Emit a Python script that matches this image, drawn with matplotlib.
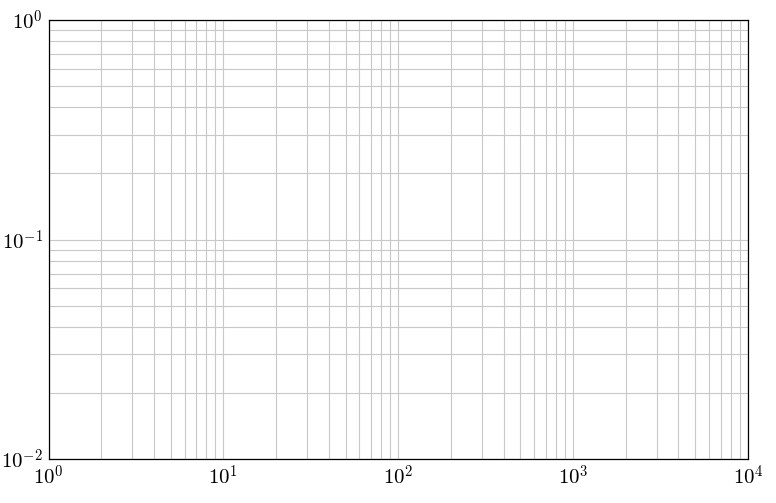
import matplotlib
matplotlib.use("Agg")
import matplotlib.pyplot as plt
from matplotlib.ticker import LogLocator, NullFormatter

plt.rcParams['mathtext.fontset'] = 'cm'
plt.rcParams['font.family'] = ['DejaVu Serif']

x_limits = [1, 1e4]
y_limits = [1e-2, 1]
x_ticks = [1, 10, 100, 1000, 10000]
x_tick_labels = [r'$10^{0}$', r'$10^{1}$', r'$10^{2}$', r'$10^{3}$', r'$10^{4}$']
y_ticks = [1e-2, 1e-1, 1]
y_tick_labels = [r'$10^{-2}$', r'$10^{-1}$', r'$10^{0}$']

fig = plt.figure(figsize=(7.76, 5.03), dpi=100)
ax = fig.add_axes([48.5/776, 44/503, (748-48.5)/776, (459-20)/503])
ax.set_xscale('log')
ax.set_yscale('log')
ax.set_xlim(*x_limits)
ax.set_ylim(*y_limits)
ax.set_xticks(x_ticks)
ax.set_xticklabels(x_tick_labels, fontsize=15)
ax.set_yticks(y_ticks)
ax.set_yticklabels(y_tick_labels, fontsize=15)
ax.xaxis.set_minor_locator(LogLocator(base=10, subs=range(2, 10), numticks=20))
ax.yaxis.set_minor_locator(LogLocator(base=10, subs=range(2, 10), numticks=20))
ax.xaxis.set_minor_formatter(NullFormatter())
ax.yaxis.set_minor_formatter(NullFormatter())
ax.grid(True, which='both', color='#c8c8c8', linewidth=0.8)
ax.set_axisbelow(True)
ax.tick_params(which='both', length=0, pad=4)
for s in ax.spines.values():
    s.set_linewidth(0.9)
    s.set_color('black')

fig.savefig('out.png', dpi=100)
